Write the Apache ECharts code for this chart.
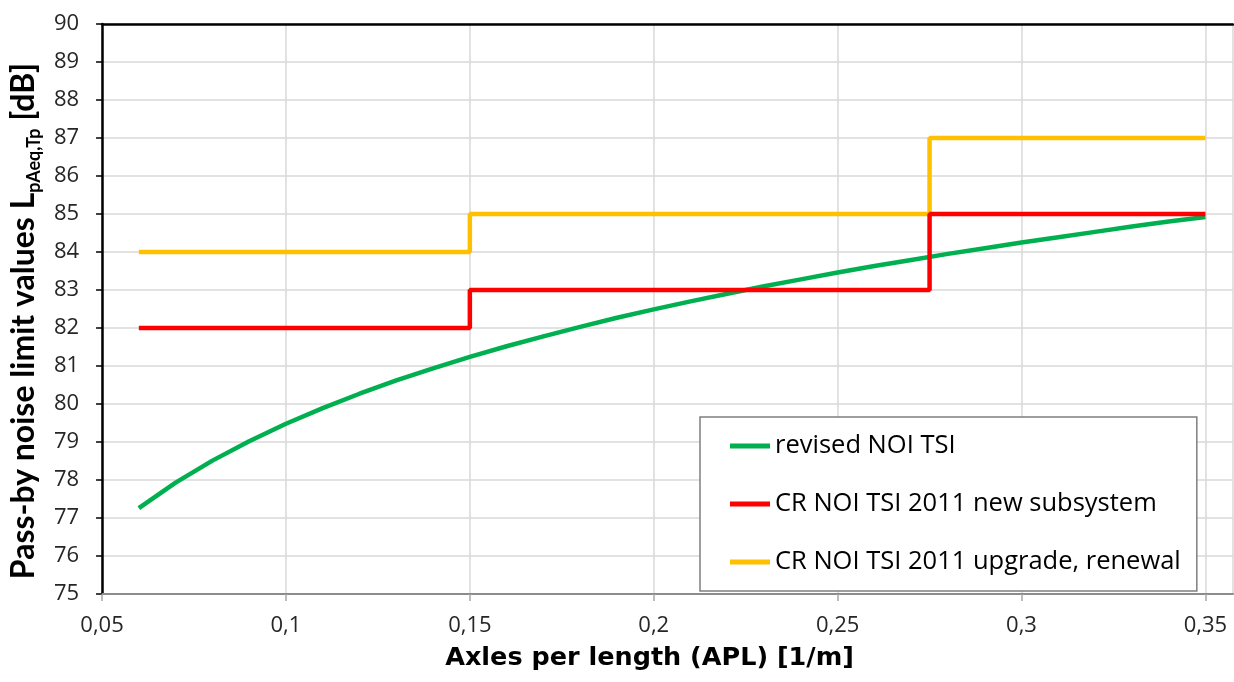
<!DOCTYPE html>
<html>
<head>
<meta charset="utf-8">
<script src="https://cdn.jsdelivr.net/npm/echarts@6/dist/echarts.min.js"></script>
<style>html,body{margin:0;padding:0;background:#fff;}#c{width:1234px;height:682px;}</style>
</head>
<body>
<div id="c"></div>
<script>
// Data
const revisedX = [0.06,0.07,0.08,0.09,0.10,0.11,0.12,0.13,0.14,0.15,0.16,0.17,0.18,0.19,0.20,0.21,0.22,0.23,0.24,0.25,0.26,0.27,0.28,0.29,0.30,0.31,0.32,0.33,0.34,0.35];
const revisedY = [77.26,77.93,78.51,79.02,79.48,79.89,80.27,80.62,80.94,81.24,81.52,81.78,82.03,82.27,82.49,82.70,82.90,83.10,83.28,83.46,83.63,83.79,83.95,84.10,84.25,84.39,84.53,84.67,84.80,84.92];
const stepX = [0.06,0.15,0.15,0.275,0.275,0.35];
const newSubsystemY = [82,82,83,83,85,85];
const upgradeY = [84,84,85,85,87,87];
const seriesNames = ['revised NOI TSI','CR NOI TSI 2011 new subsystem','CR NOI TSI 2011 upgrade, renewal'];
const colors = ['#00b050','#ff0000','#ffc000'];

const zip = (xs, ys) => xs.map((x, i) => [x, ys[i]]);
const FONT = 'Open Sans';
const TFONT = 'Lato';
const XFONT = 'DejaVu Sans';

const chart = echarts.init(document.getElementById('c'), null, {renderer: 'canvas'});
chart.setOption({
  animation: false,
  backgroundColor: '#fff',
  grid: {left: 101, top: 24, right: 1, bottom: 88, containLabel: false},
  xAxis: [{
    type: 'value', min: 0.05, max: 0.3575, interval: 0.05,
    name: 'Axles per length (APL) [1/m]', nameLocation: 'middle', nameGap: 51,
    nameTextStyle: {fontFamily: XFONT, fontWeight: 'bold', fontSize: 25.5, color: '#000', padding: [0, 36, 0, 0]},
    axisLine: {show: true, lineStyle: {color: '#8c8c8c', width: 2}},
    axisTick: {show: true, length: 7, lineStyle: {color: '#a6a6a6', width: 1.5}},
    axisLabel: {margin: 21, fontFamily: FONT, fontSize: 22, color: '#262626', showMaxLabel: false,
      formatter: v => (Math.abs(v - 0.3575) < 1e-6) ? '' : String(+v.toFixed(2)).replace('.', ',')},
    splitLine: {show: true, lineStyle: {color: '#d9d9d9', width: 1.5}}
  }, {
    type: 'value', position: 'top', min: 0.05, max: 0.3575,
    axisLine: {show: true, lineStyle: {color: '#000', width: 2.5}},
    axisTick: {show: false}, axisLabel: {show: false}, splitLine: {show: false}
  }],
  yAxis: {
    type: 'value', min: 75, max: 90, interval: 1,
    name: '{m|Pass-by noise limit values L}{s|pAeq,Tp}{m| [dB]}',
    nameLocation: 'middle', nameRotate: 90, nameGap: 55,
    nameTextStyle: {
      fontFamily: TFONT, fontWeight: 'bold', fontSize: 32, color: '#000', padding: [0, 24, 0, 0],
      rich: {
        m: {fontFamily: TFONT, fontWeight: 'bold', fontSize: 32, lineHeight: 31, verticalAlign: 'top', color: '#000'},
        s: {fontFamily: TFONT, fontWeight: 'bold', fontSize: 18, lineHeight: 18, padding: [17, 0, 0, 0], verticalAlign: 'top', color: '#000'}
      }
    },
    axisLine: {show: true, lineStyle: {color: '#000', width: 2.5}},
    axisTick: {show: true, length: 6, lineStyle: {color: '#000', width: 1.5}},
    axisLabel: {margin: 23, fontFamily: FONT, fontSize: 22, color: '#262626'},
    splitLine: {show: true, lineStyle: {color: '#d9d9d9', width: 1.5}}
  },
  legend: {
    orient: 'vertical', left: 700, top: 417,
    padding: [16, 16, 16, 30], itemGap: 32,
    itemWidth: 40, itemHeight: 5, icon: 'rect',
    backgroundColor: '#fff', borderColor: '#7f7f7f', borderWidth: 1.5,
    textStyle: {fontFamily: FONT, fontSize: 25.5, color: '#000', lineHeight: 24},
    data: seriesNames
  },
  series: [
    {name: seriesNames[0], type: 'line', data: zip(revisedX, revisedY), showSymbol: false, symbol: 'none', z: 3,
     lineStyle: {color: colors[0], width: 4.5}, itemStyle: {color: colors[0]}},
    {name: seriesNames[1], type: 'line', data: zip(stepX, newSubsystemY), showSymbol: false, symbol: 'none', z: 4,
     lineStyle: {color: colors[1], width: 4.5}, itemStyle: {color: colors[1]}},
    {name: seriesNames[2], type: 'line', data: zip(stepX, upgradeY), showSymbol: false, symbol: 'none', z: 2,
     lineStyle: {color: colors[2], width: 4.5}, itemStyle: {color: colors[2]}}
  ]
});
</script>
</body>
</html>
